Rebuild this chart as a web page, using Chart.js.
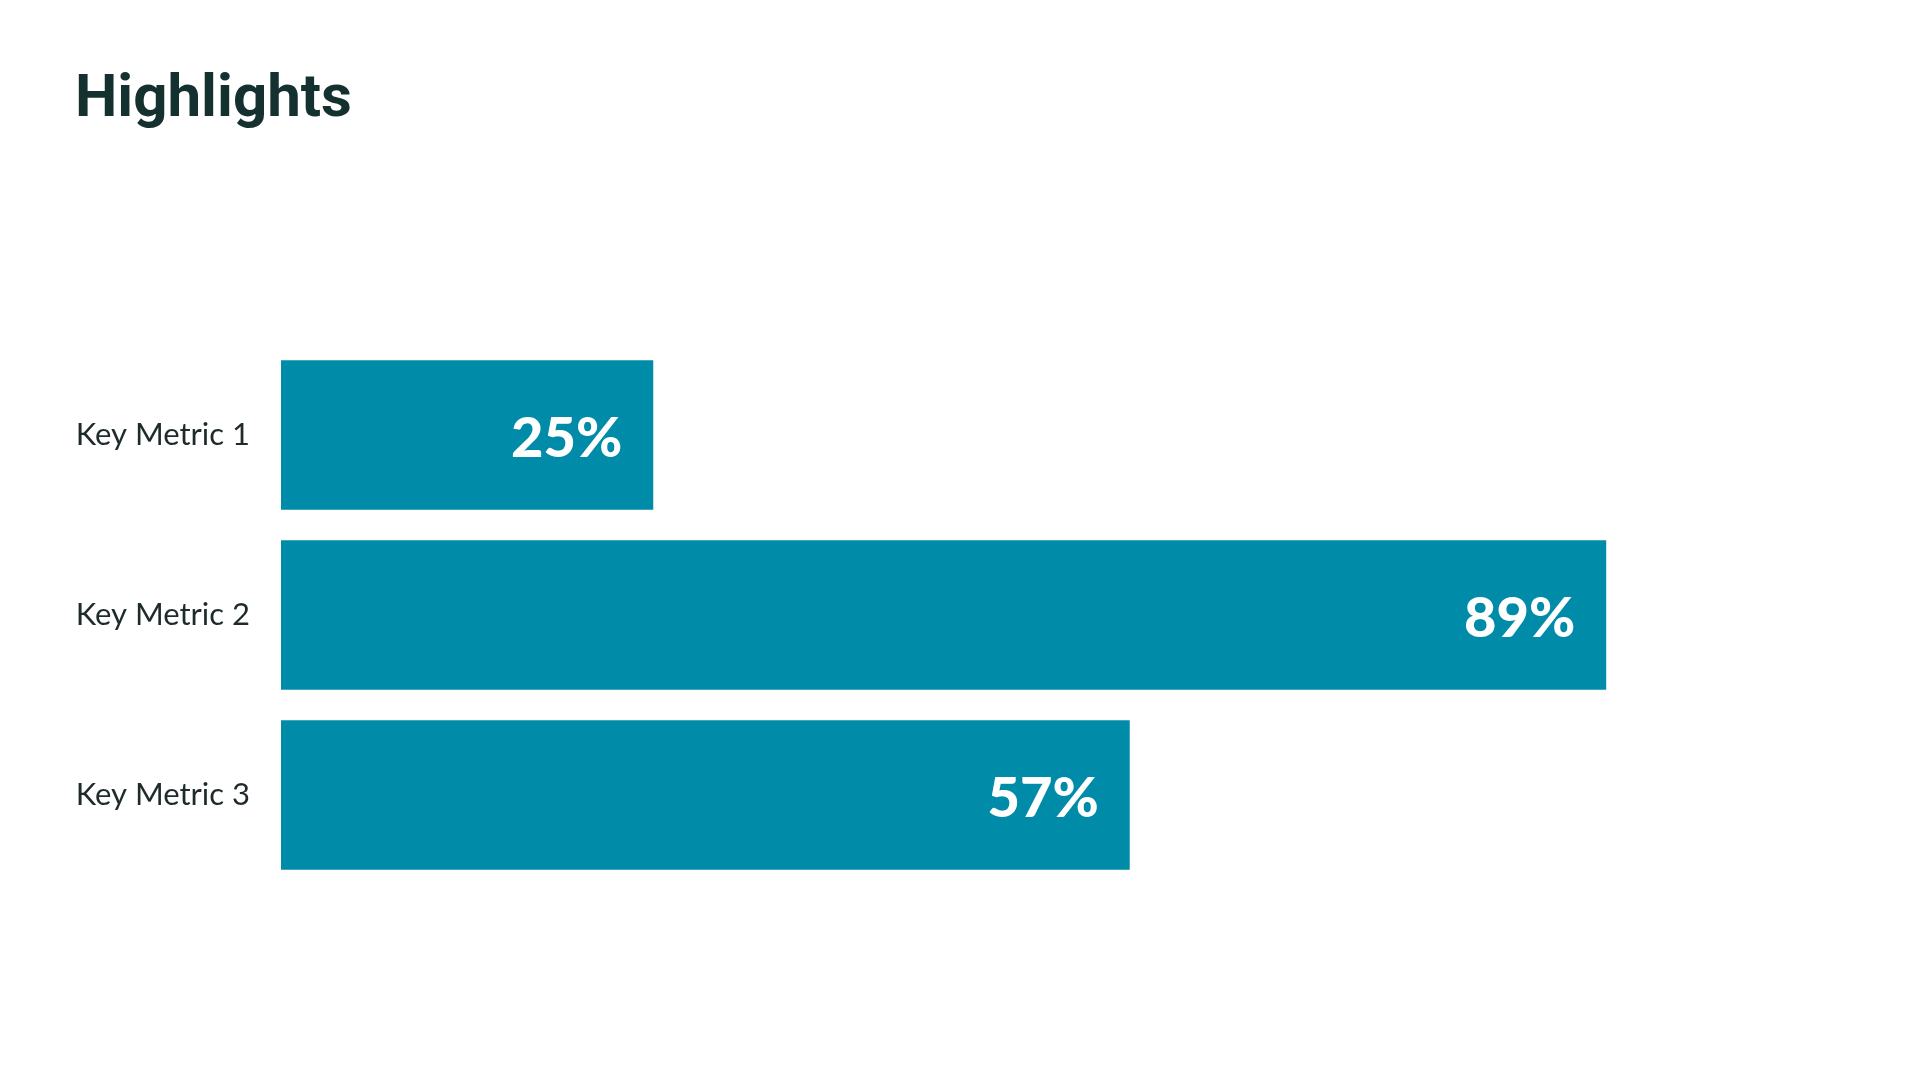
<!DOCTYPE html>
<html>
<head>
<meta charset="utf-8">
<script src="https://cdn.jsdelivr.net/npm/chart.js@4"></script>
<style>
  html, body { margin: 0; padding: 0; background: #ffffff; width: 1920px; height: 1080px; overflow: hidden; }
  #title { position: absolute; left: 75px; top: 66px; font-family: Roboto, sans-serif; font-weight: 700; font-size: 60px; color: #14302f; line-height: 1; margin: 0; }
  #wrap { position: absolute; left: 0; top: 0; width: 1920px; height: 1080px; }
</style>
</head>
<body>
<div id="wrap"><canvas id="c" width="1920" height="1080"></canvas></div>
<h1 id="title">Highlights</h1>
<script>
const categories = ["Key Metric 1", "Key Metric 2", "Key Metric 3"];
const values = [25, 89, 57];
const valueLabels = ["25%", "89%", "57%"];
const axisMin = 0;
const axisMax = 100;

const valueLabelPlugin = {
  id: 'valueLabels',
  afterDatasetsDraw(chart) {
    const ctx = chart.ctx;
    const meta = chart.getDatasetMeta(0);
    ctx.save();
    ctx.fillStyle = '#ffffff';
    ctx.font = '900 56px Lato, sans-serif';
    ctx.textAlign = 'right';
    ctx.textBaseline = 'middle';
    meta.data.forEach((bar, i) => {
      ctx.fillText(valueLabels[i], bar.x - 31, bar.y + 4);
    });
    ctx.restore();
  }
};

new Chart(document.getElementById('c'), {
  type: 'bar',
  data: {
    labels: categories,
    datasets: [{
      data: values,
      backgroundColor: '#008ca8',
      borderWidth: 0,
      barPercentage: 0.83,
      categoryPercentage: 1.0
    }]
  },
  options: {
    indexAxis: 'y',
    responsive: false,
    animation: false,
    layout: { padding: { left: 0, right: 150, top: 345, bottom: 195 } },
    plugins: { legend: { display: false }, tooltip: { enabled: false }, title: { display: false } },
    scales: {
      x: { display: false, min: axisMin, max: axisMax },
      y: {
        grid: { display: false, drawTicks: false },
        border: { display: false },
        ticks: { color: '#1f2b2b', font: { family: 'Lato', size: 31 }, padding: 31 },
        afterFit(scale) { scale.width = 281; }
      }
    }
  },
  plugins: [valueLabelPlugin]
});
</script>
</body>
</html>
